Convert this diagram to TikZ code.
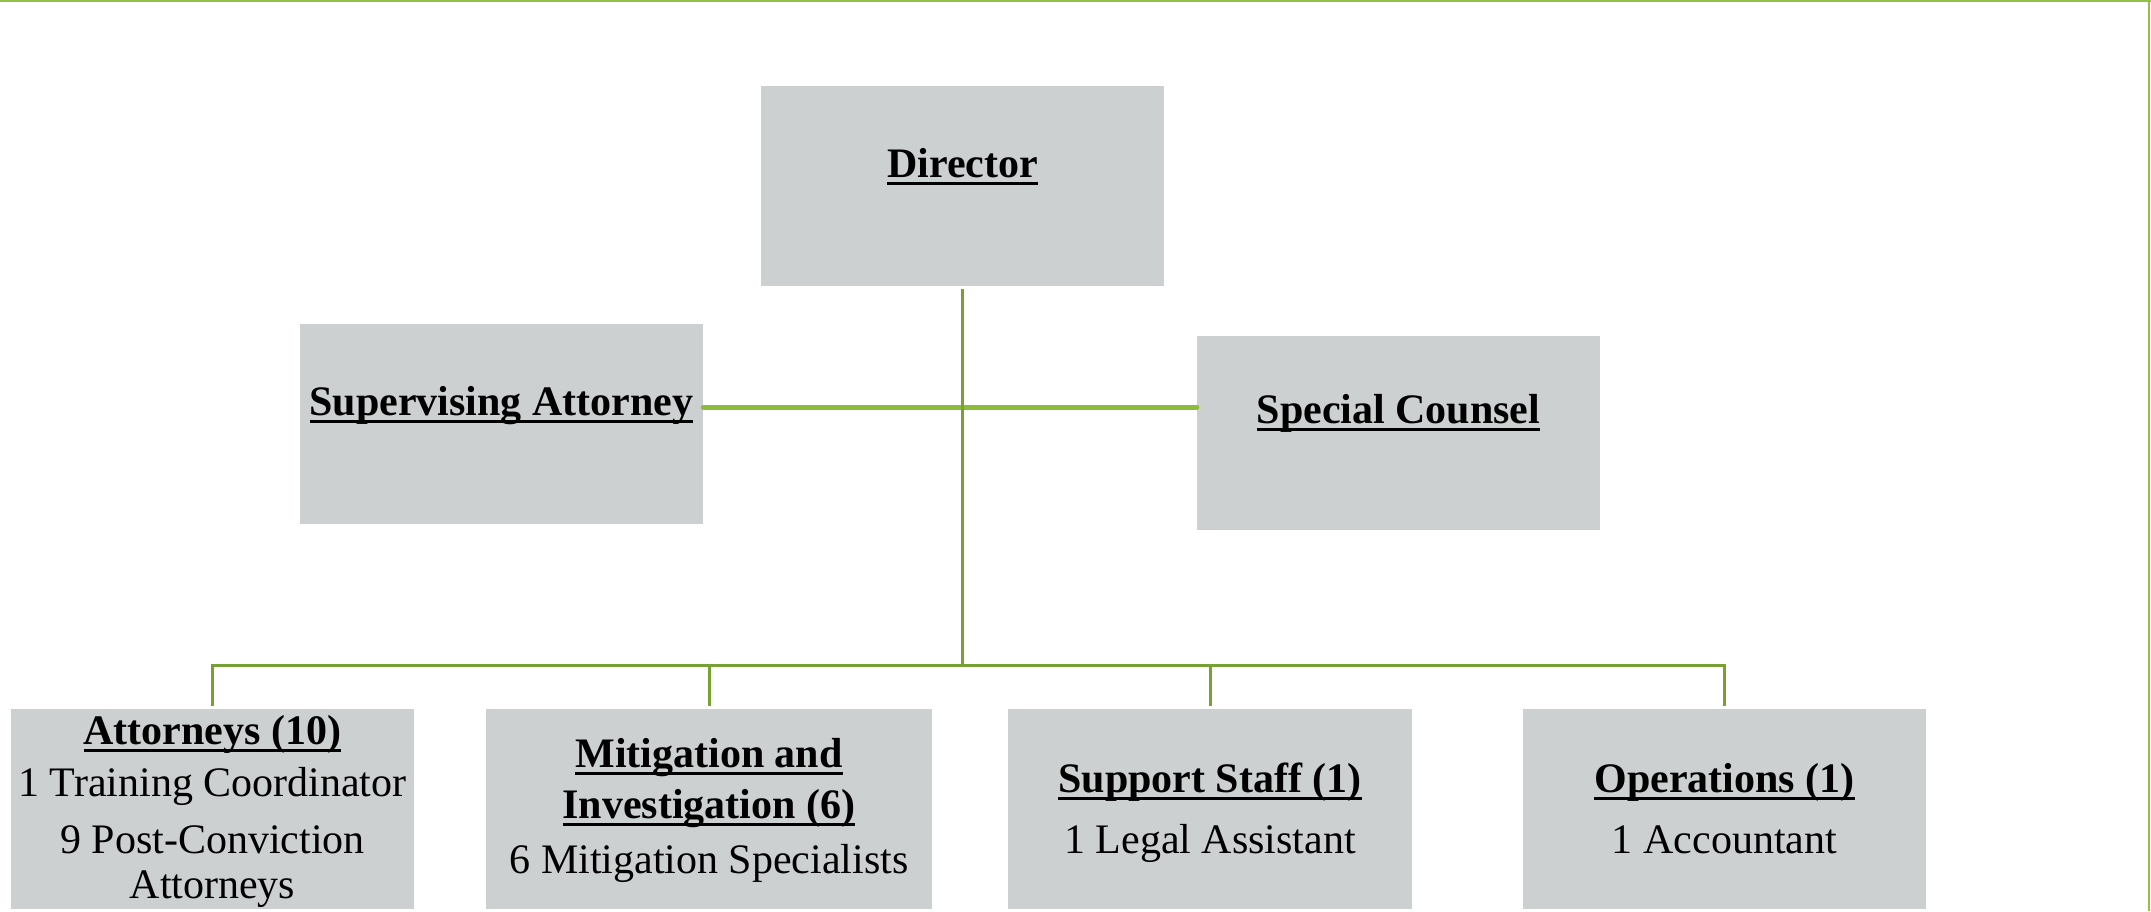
\documentclass[tikz,border=0pt]{standalone}
\usepackage{fontspec}
\setmainfont{Liberation Serif}
\newcommand\ulbox[1]{\setbox0=\hbox{#1}\leavevmode\rlap{\rule[-0.2em]{\wd0}{0.075em}}\box0}
\definecolor{boxgray}{HTML}{CCD0D1}
\definecolor{linegreen}{HTML}{77A035}
\definecolor{lightgreen}{HTML}{8DBB3C}
\definecolor{bordergreen}{HTML}{92BF45}
\begin{document}
\begin{tikzpicture}[x=1pt,y=-1pt,
  box/.style={fill=boxgray, inner sep=0, minimum width=403pt, minimum height=200pt},
  hd/.style={anchor=base, inner sep=0, font=\fontsize{42}{42}\selectfont\bfseries},
  tx/.style={anchor=base, inner sep=0, font=\fontsize{42}{42}\selectfont},
  conn/.style={draw=linegreen, line width=3pt},
  hconn/.style={draw=lightgreen, line width=5pt, line cap=round},
  border/.style={draw=bordergreen}]
\fill[white] (0,0) rectangle (2151,911);
\useasboundingbox (0,0) rectangle (2151,911);
\draw[border, line width=2.5pt] (0,1.2) -- (2151,1.2);
\draw[border, line width=1.6pt] (2149.2,0) -- (2149.2,911);
% boxes
\node[box] (dir) at (962.5,186) {};
\node[box] (sa) at (501.5,424) {};
\node[box, minimum height=194pt] (sc) at (1398.5,433) {};
\node[box] (b1) at (212.5,809) {};
\node[box, minimum width=446pt] (b2) at (709,809) {};
\node[box, minimum width=404pt] (b3) at (1210,809) {};
\node[box] (b4) at (1724.5,809) {};
% texts
\node[hd] (tdir) at (962.5,177) {\ulbox{Director}};
\node[hd] (tsa) at (501.5,415) {\ulbox{Supervising Attorney}};
\node[hd] (tsc) at (1398.5,423) {\ulbox{Special Counsel}};
\node[hd] (t1a) at (212.5,744) {\ulbox{Attorneys (10)}};
\node[tx] (t1b) at (212.5,796) {1 Training Coordinator};
\node[tx] (t1c) at (212.5,853) {9 Post-Conviction};
\node[tx] (t1d) at (212.5,898) {Attorneys};
\node[hd] (t2a) at (709,767) {\ulbox{Mitigation and}};
\node[hd] (t2b) at (709,818) {\ulbox{Investigation (6)}};
\node[tx] (t2c) at (709,873) {6 Mitigation Specialists};
\node[hd] (t3a) at (1210,792) {\ulbox{Support Staff (1)}};
\node[tx] (t3b) at (1210,853) {1 Legal Assistant};
\node[hd] (t4a) at (1724.5,792) {\ulbox{Operations (1)}};
\node[tx] (t4b) at (1724.5,853) {1 Accountant};
% connectors
\coordinate (hy) at (962.5,407);
\coordinate (bus) at (962.5,665);
\draw[hconn] (sa.east |- hy) -- (sc.west |- hy);
\draw[conn] ([yshift=-3pt]dir.south) -- (bus);
\draw[conn] ([yshift=3pt]b1.north) |- (bus) -| ([yshift=3pt]b4.north);
\draw[conn] ([yshift=3pt]b2.north) -- (b2.north |- bus);
\draw[conn] ([yshift=3pt]b3.north) -- (b3.north |- bus);
\end{tikzpicture}
\end{document}
